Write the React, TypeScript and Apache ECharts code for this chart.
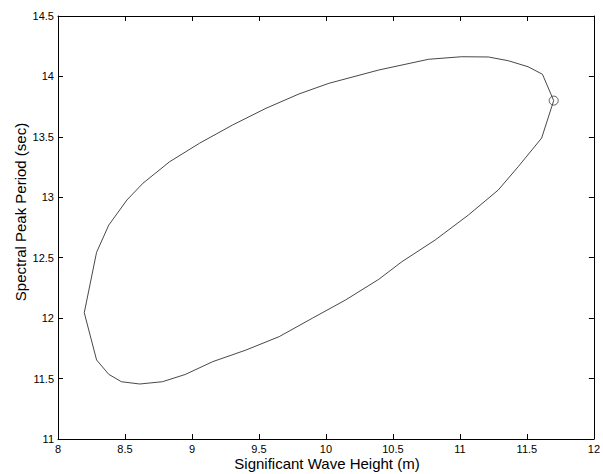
import React, { useEffect, useRef } from "react";
import * as echarts from "echarts";

const waveHeight: number[] = [
  11.70, 11.61, 11.435, 11.286, 11.063, 10.816, 10.567, 10.394, 10.146, 9.898,
  9.651, 9.403, 9.155, 8.95, 8.78, 8.61, 8.473, 8.379, 8.288, 8.196,
  8.288, 8.379, 8.515, 8.634, 8.833, 9.056, 9.303, 9.552, 9.799, 10.022,
  10.394, 10.766, 11.013, 11.212, 11.361, 11.509, 11.616, 11.70,
];
const peakPeriod: number[] = [
  13.80, 13.49, 13.253, 13.06, 12.853, 12.647, 12.467, 12.321, 12.15, 11.999,
  11.847, 11.736, 11.64, 11.534, 11.474, 11.455, 11.474, 11.535, 11.654, 12.045,
  12.545, 12.77, 12.978, 13.116, 13.294, 13.447, 13.598, 13.736, 13.855, 13.943,
  14.053, 14.142, 14.163, 14.161, 14.13, 14.08, 14.018, 13.80,
];
const markerPoint: number[] = [11.7, 13.8];
const xTicks = { min: 8, max: 12, interval: 0.5 };
const yTicks = { min: 11, max: 14.5, interval: 0.5 };
const xTitle = "Significant Wave Height (m)";
const yTitle = "Spectral Peak Period (sec)";

const FONT = "'Liberation Sans', Arial, Helvetica, sans-serif";

export default function App() {
  const ref = useRef<HTMLDivElement>(null);
  useEffect(() => {
    if (!ref.current) return;
    const chart = echarts.init(ref.current, undefined, { renderer: "svg" });
    const axisLine = { show: true, onZero: false, lineStyle: { color: "#000", width: 1 } };
    const tick = { show: true, inside: true, length: 5, lineStyle: { color: "#000", width: 1 } };
    const label = {
      color: "#000",
      fontSize: 11,
      fontFamily: FONT,
      formatter: (v: number) => String(v),
    };
    chart.setOption({
      animation: false,
      backgroundColor: "#fff",
      grid: { left: 58, right: 7, top: 16, bottom: 35, containLabel: false },
      xAxis: [
        {
          type: "value",
          position: "bottom",
          ...xTicks,
          axisLine,
          axisTick: tick,
          axisLabel: { ...label, margin: 4 },
          splitLine: { show: false },
        },
        {
          type: "value",
          position: "top",
          ...xTicks,
          axisLine,
          axisTick: tick,
          axisLabel: { show: false },
          splitLine: { show: false },
        },
      ],
      yAxis: [
        {
          type: "value",
          position: "left",
          ...yTicks,
          axisLine,
          axisTick: tick,
          axisLabel: { ...label, margin: 4 },
          splitLine: { show: false },
        },
        {
          type: "value",
          position: "right",
          ...yTicks,
          axisLine,
          axisTick: tick,
          axisLabel: { show: false },
          splitLine: { show: false },
        },
      ],
      graphic: [
        {
          type: "text",
          x: 327,
          y: 463,
          style: {
            text: xTitle,
            font: `15px ${FONT}`,
            fill: "#000",
            textAlign: "center",
            textVerticalAlign: "middle",
          },
        },
        {
          type: "text",
          x: 20,
          y: 212,
          rotation: Math.PI / 2,
          style: {
            text: yTitle,
            font: `15px ${FONT}`,
            fill: "#000",
            textAlign: "center",
            textVerticalAlign: "middle",
          },
        },
      ],
      series: [
        {
          type: "line",
          data: waveHeight.map((x, i) => [x, peakPeriod[i]]),
          showSymbol: false,
          symbol: "none",
          smooth: false,
          lineStyle: { color: "#333", width: 0.9 },
          z: 2,
        },
        {
          type: "scatter",
          data: [markerPoint],
          symbol: "circle",
          symbolSize: 9,
          itemStyle: { color: "rgba(0,0,0,0)", borderColor: "#333", borderWidth: 1 },
          z: 3,
        },
      ],
    });
    return () => chart.dispose();
  }, []);
  return (
    <div
      ref={ref}
      style={{ position: "fixed", left: 0, top: 0, width: 603, height: 474 }}
    />
  );
}
